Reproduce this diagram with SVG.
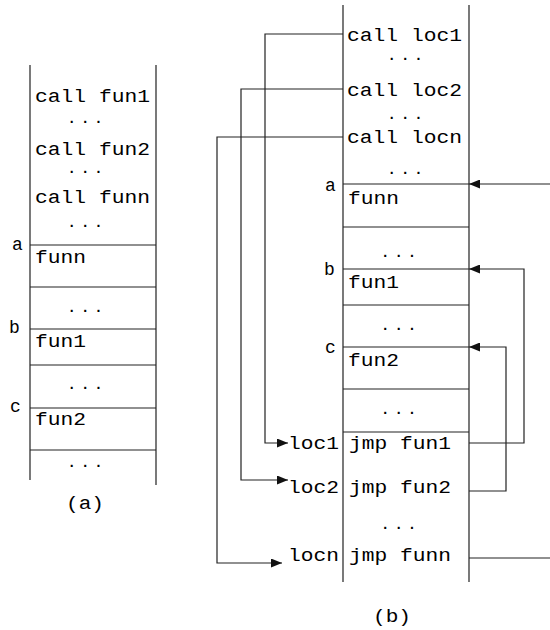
<svg xmlns="http://www.w3.org/2000/svg" width="550" height="630" viewBox="0 0 550 630">
<style>
text{font-family:"Liberation Mono","Courier New",monospace;font-size:18px;fill:#000}
.d{font-size:14px;font-weight:bold;letter-spacing:5px}
.ln{stroke:#222;stroke-width:1.2;fill:none}
.cn{stroke:#222;stroke-width:1.2;fill:none}
</style>
<defs>
<marker id="ah" markerUnits="userSpaceOnUse" viewBox="0 0 11 9" markerWidth="11" markerHeight="9" refX="11" refY="4.5" orient="auto">
<path d="M0,0 L11,4.5 L0,9 Z" fill="#111"/>
</marker>
</defs>
<rect width="550" height="630" fill="#fff"/>
<g id="panel-a">
<path class="ln" d="M30,65 V480 M156,65 V485 M30,245 H156 M30,287 H156 M30,329 H156 M30,365 H156 M30,408 H156 M30,450 H156"/>
<text x="35" y="102" textLength="115" lengthAdjust="spacingAndGlyphs">call fun1</text>
<text class="d" x="67.5" y="123">...</text>
<text x="35" y="155" textLength="115" lengthAdjust="spacingAndGlyphs">call fun2</text>
<text class="d" x="67.5" y="173">...</text>
<text x="35" y="203" textLength="115" lengthAdjust="spacingAndGlyphs">call funn</text>
<text class="d" x="67.5" y="227">...</text>
<text x="12" y="250">a</text>
<text x="35" y="263" textLength="51" lengthAdjust="spacingAndGlyphs">funn</text>
<text class="d" x="67.5" y="312">...</text>
<text x="9" y="333">b</text>
<text x="35" y="347" textLength="51" lengthAdjust="spacingAndGlyphs">fun1</text>
<text class="d" x="67.5" y="389">...</text>
<text x="10" y="412">c</text>
<text x="35" y="425" textLength="51" lengthAdjust="spacingAndGlyphs">fun2</text>
<text class="d" x="67.5" y="467">...</text>
<text x="66" y="509" textLength="38" lengthAdjust="spacingAndGlyphs">(a)</text>
</g>
<g id="panel-b">
<path class="ln" d="M343,5 V582 M469,5 V582 M343,184 H469 M343,227 H469 M343,269 H469 M343,305 H469 M343,347 H469 M343,389 H469 M343,432 H469"/>
<text x="347" y="41" textLength="115" lengthAdjust="spacingAndGlyphs">call loc1</text>
<text class="d" x="387.5" y="60">...</text>
<text x="347" y="96" textLength="115" lengthAdjust="spacingAndGlyphs">call loc2</text>
<text class="d" x="387.5" y="119">...</text>
<text x="347" y="143" textLength="115" lengthAdjust="spacingAndGlyphs">call locn</text>
<text class="d" x="387.5" y="174">...</text>
<text x="325" y="191">a</text>
<text x="348" y="204" textLength="51" lengthAdjust="spacingAndGlyphs">funn</text>
<text class="d" x="381" y="257">...</text>
<text x="324" y="275">b</text>
<text x="348" y="288" textLength="51" lengthAdjust="spacingAndGlyphs">fun1</text>
<text class="d" x="381" y="330">...</text>
<text x="325" y="353">c</text>
<text x="348" y="366" textLength="51" lengthAdjust="spacingAndGlyphs">fun2</text>
<text class="d" x="381" y="414">...</text>
<text x="288" y="449" textLength="51" lengthAdjust="spacingAndGlyphs">loc1</text>
<text x="349" y="449" textLength="102" lengthAdjust="spacingAndGlyphs">jmp fun1</text>
<text x="288" y="493" textLength="51" lengthAdjust="spacingAndGlyphs">loc2</text>
<text x="349" y="493" textLength="102" lengthAdjust="spacingAndGlyphs">jmp fun2</text>
<text class="d" x="381" y="529">...</text>
<text x="288" y="561" textLength="51" lengthAdjust="spacingAndGlyphs">locn</text>
<text x="349" y="561" textLength="102" lengthAdjust="spacingAndGlyphs">jmp funn</text>
<text x="373" y="622" textLength="38" lengthAdjust="spacingAndGlyphs">(b)</text>
</g>
<g id="connectors">
<path class="cn" d="M343,34 H265 V443 H288" marker-end="url(#ah)"/>
<path class="cn" d="M343,89 H241 V480 H288" marker-end="url(#ah)"/>
<path class="cn" d="M343,137 H217 V563 H282" marker-end="url(#ah)"/>
<path class="cn" d="M550,184 H469" marker-end="url(#ah)"/>
<path class="cn" d="M469,443 H524 V269 H469" marker-end="url(#ah)"/>
<path class="cn" d="M469,491 H506 V347 H469" marker-end="url(#ah)"/>
<path class="cn" d="M469,558 H550"/>
</g>
</svg>
